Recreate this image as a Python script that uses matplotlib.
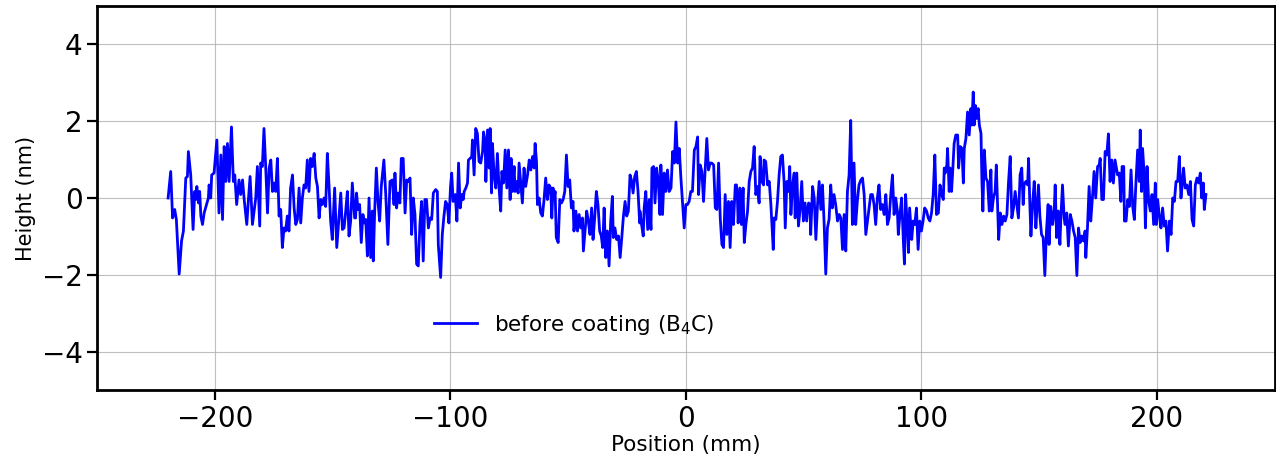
import matplotlib.pyplot as plt

# surface height profile along the mirror, before B4C coating
position_mm = [
    -219.8, -218.7, -217.9, -217.0, -216.3, -215.1, -214.1, -213.3, -212.3, -211.6,
    -211.2, -210.2, -209.2, -208.5, -208.1, -207.6, -206.9, -206.4, -205.9, -205.2,
    -204.5, -203.5, -202.7, -202.4, -201.7, -201.3, -200.3, -199.1, -198.2, -197.4,
    -196.7, -196.0, -195.3, -194.6, -193.9, -192.9, -192.1, -191.5, -190.7, -189.7,
    -189.0, -188.2, -187.5, -186.4, -185.7, -185.0, -184.0, -182.6, -181.9, -180.9,
    -180.5, -179.8, -179.1, -178.4, -177.6, -176.9, -176.2, -175.5, -174.8, -174.1,
    -173.4, -172.7, -172.0, -171.3, -170.6, -169.9, -169.2, -168.5, -167.8, -167.0,
    -166.3, -165.6, -164.9, -164.2, -163.5, -162.8, -162.1, -161.4, -160.7, -160.0,
    -159.3, -158.6, -157.8, -157.1, -156.4, -155.7, -155.0, -154.3, -153.6, -152.9,
    -152.2, -151.5, -150.8, -150.1, -149.1, -148.2, -147.5, -146.5, -145.8, -145.1,
    -144.4, -143.7, -143.0, -142.3, -141.6, -140.6,
    -140.2, -139.8, -139.2, -138.5, -137.8, -137.1, -136.4, -135.9, -135.2, -134.5,
    -133.8, -133.1, -132.7, -132.1, -131.4, -130.7, -130.0, -129.3, -128.2, -127.4,
    -126.5, -125.6, -124.6, -123.9, -123.5, -122.8, -122.1, -121.4, -120.8, -120.0,
    -119.2, -118.5, -117.8, -117.1, -116.4, -115.7, -115.0, -114.3, -113.6, -112.9,
    -112.2, -111.5, -110.8, -110.1, -109.3, -108.6, -107.9, -107.2, -106.2, -105.5,
    -105.1, -104.1, -103.4, -102.7, -102.0, -101.3, -100.6, -99.9,
    -99.4, -98.8, -97.9, -97.2, -96.5, -95.8, -95.1, -94.5, -94.1, -93.4,
    -92.7, -92.3, -91.6, -90.9, -90.6, -89.9, -89.2, -88.5, -87.8, -87.1,
    -86.3, -85.9, -85.2, -84.9, -84.2, -83.5, -83.1, -82.5, -82.1, -81.4,
    -80.7, -80.0, -79.3, -78.6, -78.1, -77.4, -76.7, -76.0, -75.3, -74.6,
    -74.2, -73.6, -72.9, -72.5, -71.9, -71.2, -70.8, -70.1, -69.4, -68.7,
    -68.0, -67.2, -66.5, -65.8, -65.1, -64.4, -64.0, -63.4, -63.0, -62.3,
    -61.6, -60.9, -60.2, -59.5,
    -58.8, -58.1, -57.4, -56.9, -56.4, -55.9, -55.5, -55.0, -54.2, -53.5,
    -52.8, -52.1, -51.4, -50.7, -50.0, -49.3, -48.6, -47.9, -47.5, -46.7,
    -46.0, -45.3, -44.6, -43.9, -43.5, -42.8, -42.1, -41.4, -40.7, -40.0,
    -39.4, -38.7, -38.0, -37.3, -36.6, -35.9, -35.3, -34.7, -34.0, -33.3,
    -32.6, -31.9, -31.2, -30.8, -30.1, -29.4, -28.6, -27.9, -27.2, -26.5,
    -25.8, -25.1, -24.4, -23.7, -23.1, -22.4, -21.7, -21.0, -20.3, -19.6,
    -19.5, -18.8, -18.1, -17.7, -17.0, -16.2, -15.5, -14.8, -14.4, -13.7,
    -13.1, -12.4, -11.7, -11.0, -10.6, -9.9, -9.2, -8.5, -7.8, -7.1,
    -6.3, -5.6, -4.9, -4.2, -3.5, -2.8, -2.1, -1.4, -0.7, 0.0,
    0.7, 1.4, 2.1, 2.8, 3.6, 4.3, 5.0, 5.4, 6.1, 6.8,
    7.5, 8.2, 8.9, 9.6, 10.3, 11.0, 11.8, 12.5, 13.2, 13.9,
    14.6, 15.3, 16.0, 16.7, 17.4, 18.1, 18.8, 19.5, 20.2, 21.0,
    21.5, 21.9, 22.2, 22.9, 23.6, 24.3, 24.8, 25.5, 26.2, 26.9,
    27.6, 28.3, 29.0, 29.7, 30.4, 31.1, 31.5, 32.3, 33.0, 33.2,
    33.9, 34.7, 35.4, 36.1, 36.4, 37.1, 37.5, 38.2, 38.9, 39.6,
    40.3, 41.0, 41.7, 42.2, 42.9, 43.6, 44.1, 44.6, 45.3, 46.0,
    46.4, 47.1, 47.8, 48.5, 49.2, 49.9, 50.6, 51.3, 52.1, 52.8,
    53.0, 53.8, 54.5, 55.2, 55.9, 56.6, 57.3, 58.0, 58.7, 59.4,
    60.1, 60.8, 61.5,
    62.2, 62.9, 63.6, 64.4, 65.1, 65.8, 66.5, 67.2, 67.9, 68.6,
    69.3, 70.0, 70.7, 71.4, 72.1, 72.8, 73.5, 74.3, 75.0, 75.7,
    76.4, 77.1, 77.8, 78.5, 79.2, 79.9, 80.6, 81.3, 82.0, 82.7,
    83.4, 84.2, 84.9, 85.6, 86.3, 87.0, 87.7, 88.4, 89.1, 89.8,
    90.2, 90.9, 91.6, 92.4, 92.8, 93.3, 94.1, 94.5, 95.0, 95.9,
    96.5, 97.2, 97.9, 98.6, 99.3, 100.0, 100.7, 101.4,
    102.2, 102.9, 103.6, 104.3, 105.0, 105.7, 106.4, 107.2, 107.9, 108.6,
    109.3, 109.7, 110.1, 110.8, 111.1, 111.8, 112.2, 112.8, 113.2, 113.9,
    114.6, 115.4, 115.8, 116.5, 117.2, 117.8, 118.2, 118.9, 119.6, 120.3,
    121.0, 121.4, 122.0, 122.4, 122.9, 123.4, 124.1, 124.6, 125.3, 125.7,
    126.1, 126.7, 127.4, 128.1, 128.8, 129.5, 129.9, 130.6, 131.3, 131.8,
    132.3, 132.8, 133.5, 134.2, 134.9, 135.6, 136.3, 137.0, 137.7, 138.4,
    139.1, 139.8, 140.5, 141.2, 141.9,
    142.6, 143.2, 143.6, 144.3, 145.1, 145.5, 146.0, 146.5, 147.2, 147.9,
    148.6, 149.0, 149.7, 150.3, 151.0, 151.7, 152.4, 153.1, 153.8, 154.2,
    154.9, 155.7, 156.4, 156.8, 157.4, 158.1, 158.8, 159.2, 159.9, 160.6,
    161.0, 161.7, 162.4, 163.2, 163.9, 164.6, 165.3, 166.0, 166.7, 167.4,
    168.1, 168.8, 169.5, 169.8, 170.5, 171.2, 171.9, 172.6, 173.3, 174.0,
    174.8, 175.5, 175.9, 176.6, 177.3, 178.0, 178.7, 179.4, 180.1, 180.8,
    181.5, 182.2,
    183.3, 184.0, 184.7, 185.2, 185.9, 186.2, 186.9, 187.6, 188.3, 189.0,
    189.7, 190.4, 191.1, 191.8, 192.5, 192.9, 193.5, 193.9, 194.6, 195.1,
    195.8, 196.5, 197.2, 197.9, 198.6, 199.3, 199.7, 200.3, 201.0, 201.7,
    202.4, 203.1, 203.8, 204.5, 205.3, 206.0, 206.7, 207.4, 208.1, 208.8,
    209.5, 210.2, 210.9, 211.3, 212.0, 212.7, 213.5, 214.2, 214.9, 215.6,
    216.3, 217.0, 217.7, 218.4, 219.0, 219.7, 220.1, 220.8,
]

height_nm = [
    0.00, 0.69, -0.52, -0.30, -0.56, -1.98, -1.12, -0.86, 0.52, 0.56,
    1.21, 0.60, -0.82, 0.17, -0.04, 0.30, -0.13, 0.17, -0.47, -0.69,
    -0.39, -0.17, 0.00, 0.34, 0.00, 0.60, 0.65, 1.51, -0.39, 1.12,
    -0.56, 1.34, 0.43, 1.42, 0.43, 1.85, 0.43, 0.60, -0.17, 0.47,
    0.09, 0.47, -0.04, -0.69, -0.04, 0.56, -0.69, 0.00, 0.82, -0.73,
    0.91, 0.82, 1.81, 0.86, -0.39, 0.78, 0.99, 0.17, 0.39, 0.17,
    1.03, -0.47, -0.30, -1.29, -0.78, -0.86, -0.47, -0.86, 0.26, 0.60,
    -0.26, -0.69, -0.56, 0.26, -0.65, 0.00, 0.34, 0.26, 0.99, 0.17,
    1.03, 0.82, 1.16, 0.52, 0.30, -0.52, -0.04, -0.17, 0.00, -0.22,
    1.16, 0.34, -0.60, -1.08, 0.26, -1.29, -0.69, 0.13, -0.82, -0.78,
    -0.34, 0.17, -0.99, -0.60, 0.39, -0.52,
    -0.52, 0.13, -0.30, -0.17, -1.16, -0.43, -0.65, -0.56, -1.51, 0.00,
    -1.55, -0.34, -1.64, -0.34, 0.78, -0.09, -0.60, 0.30, 0.99, 0.09,
    -1.21, 0.43, 0.47, -0.17, 0.65, -0.26, 0.13, -0.13, 1.03, 1.03,
    -0.39, 0.47, 0.43, 0.52, -0.95, 0.00, -0.43, -1.72, -1.77, -0.69,
    -0.09, -1.64, -0.04, -0.04, -0.78, -0.52, -0.56, 0.13, 0.22, 0.17,
    -1.21, -2.07, -0.95, -0.47, -0.09, -0.17, -0.65, 0.30,
    0.65, -0.09, 0.09, -0.60, 0.91, -0.26, 0.09, -0.04, 0.17, 0.26,
    0.39, 0.99, 1.03, 1.08, 1.51, 0.60, 1.81, 1.68, 0.95, 0.91,
    1.21, 1.72, 1.47, 0.43, 1.77, 0.78, 1.81, 0.13, 1.42, 0.60,
    0.26, 1.16, 0.26, -0.34, 0.69, 0.39, 1.25, 0.26, 1.25, -0.04,
    1.03, 0.17, 0.82, 0.17, 0.43, 0.13, 0.91, 0.39, -0.13, 0.78,
    0.30, 0.60, 0.99, 0.73, 1.08, 0.78, 1.42, 0.95, -0.17, 0.00,
    -0.39, -0.47, -0.04, 0.52,
    -0.04, 0.34, 0.26, -0.52, 0.26, 0.00, 0.17, -1.03, -1.16, -0.04,
    -0.13, -0.04, 0.17, 1.12, 0.30, 0.47, -0.26, -0.09, -0.86, -0.34,
    -0.86, -0.43, -0.78, -0.52, -1.38, -0.86, -0.34, -0.60, -0.95, -0.26,
    -1.08, -0.52, 0.17, -0.17, -0.86, -0.99, -1.29, -0.26, -1.55, -0.86,
    -1.77, -0.60, 0.04, -1.03, -0.78, -1.08, -0.99, -1.55, -1.03, -0.47,
    -0.09, -0.47, -0.34, 0.60, 0.47, 0.13, 0.56, 0.69, 0.17, -0.65,
    -0.34, -0.69, -0.99, -0.26, 0.17, -0.82, -0.04, -0.82, 0.78, 0.82,
    -0.13, 0.78, 0.43, -0.43, 0.86, -0.43, 0.65, 0.17, 0.73, 0.17,
    0.26, 1.21, 0.91, 1.98, 0.91, 1.29, 0.52, -0.13, -0.78, -0.17,
    -0.17, -0.09, 0.17, 0.17, 1.25, 1.34, 1.59, 0.09, 0.86, 0.69,
    -0.09, 0.73, 1.55, 0.73, 0.91, 0.91, 0.86, -0.26, -0.30, 0.91,
    -0.52, -1.21, -1.29, 0.09, -0.95, -0.09, -1.29, -0.09, -0.69, 0.34,
    0.34, -0.04, -0.65, 0.26, -0.69, 0.26, -1.16, -0.69, -0.34, 0.43,
    0.69, 0.78, 1.34, 0.09, 0.30, -0.13, 1.08, 0.43, 0.34, 0.99,
    0.95, 0.34, 0.43, -0.17, -0.52, -1.34, -0.52, -0.56, -0.09, 0.60,
    1.08, 1.12, 0.43, -0.78, 0.43, 0.17, 0.82, -0.43, 0.34, 0.65,
    -0.52, 0.65, -0.73, -0.30, 0.43, -0.60, -0.13, -0.60, -0.13, -0.17,
    -0.95, 0.30, 0.00, -1.08, -0.17, 0.43, -0.30, 0.34, -0.65, -1.98,
    -0.78, -0.56, 0.34,
    -0.26, 0.09, -0.17, -0.60, -0.43, -0.52, -1.34, -0.43, -1.38, 0.17,
    0.60, 2.02, -0.69, 0.91, -0.69, -0.09, 0.34, 0.47, 0.52, 0.09,
    -0.95, -0.60, -0.26, 0.09, 0.09, -0.17, -0.69, 0.00, 0.34, -0.30,
    -0.17, -0.43, 0.09, -0.69, -0.52, 0.09, 0.60, -0.43, 0.00, -0.34,
    -0.95, -0.43, 0.00, -1.21, -1.72, 0.09, -0.86, -1.42, -0.26, -1.08,
    -0.60, -0.69, -0.26, -1.34, -0.60, -0.86, -0.60, -0.26,
    -0.34, -0.52, -0.60, -0.39, 0.09, 1.12, -0.43, -0.39, 0.34, 0.09,
    -0.04, 0.78, 0.65, 0.86, 1.29, 0.17, 0.78, 0.17, 0.60, 1.42,
    1.64, 1.64, 0.78, 1.34, 1.29, 0.39, 1.29, 1.55, 2.24, 1.64,
    2.33, 1.90, 2.76, 1.90, 2.41, 2.07, 2.33, 1.90, 1.68, 0.43,
    -0.34, 1.25, 0.52, 0.43, -0.34, 0.73, -0.34, 0.00, 0.17, 0.86,
    -0.09, -1.08, -0.39, -0.69, -0.47, -0.60, -0.43, 0.43, 1.08, -0.52,
    -0.26, 0.17, -0.17, -0.52, 0.60,
    0.78, -0.17, 0.34, 0.43, 0.34, 1.03, -0.09, -0.99, -0.17, 0.43,
    -0.78, -0.34, 0.34, -0.47, -0.95, -1.03, -2.02, -0.86, -0.17, -1.21,
    -0.22, -0.69, -0.30, 0.34, -1.03, -0.34, -1.21, -0.52, 0.34, -0.52,
    -0.69, -0.39, -1.25, -0.43, -0.60, -0.86, -1.03, -2.02, -0.78, -1.16,
    -0.99, -1.12, -0.86, -1.55, -0.78, 0.30, -0.60, 0.00, 0.69, 0.00,
    0.82, 0.86, 1.03, -0.04, -0.04, 1.21, 1.12, 1.67, 0.43, 0.99,
    0.39, 0.99,
    0.60, 0.65, -0.09, 0.82, 0.82, -0.60, -0.60, -0.04, -0.22, 0.73,
    -0.22, -0.56, 0.43, 1.25, 0.43, 1.77, 0.17, 1.29, 0.60, -0.78,
    0.82, -0.09, -0.34, 0.09, -0.69, 0.39, -0.69, -0.04, -0.47, -0.78,
    -0.26, -0.73, -0.60, -1.38, -0.60, -0.95, 0.00, -0.09, 0.43, 0.43,
    1.08, 0.00, 0.47, 0.78, 0.26, 0.34, 0.09, 0.43, -0.56, -0.73,
    0.34, 0.52, 0.39, 0.65, 0.00, 0.39, -0.30, 0.09,
]

fig, ax = plt.subplots(figsize=(12.76, 4.61), dpi=100)
fig.subplots_adjust(left=0.076, right=0.999, bottom=0.154, top=0.987)

ax.plot(position_mm, height_nm, color='blue', linewidth=2, label='before coating (B$_4$C)')

ax.set_xlim(-250, 250)
ax.set_ylim(-5, 5)
ax.set_xticks([-200, -100, 0, 100, 200])
ax.set_yticks([-4, -2, 0, 2, 4])
ax.grid(True, color='#b0b0b0', linewidth=0.8, alpha=0.8)
ax.tick_params(axis='both', labelsize=20, length=7, width=1.6, direction='out')
for side in ax.spines.values():
    side.set_linewidth(2)

ax.set_xlabel('Position (mm)', fontsize=15.5, labelpad=2)
ax.set_ylabel('Height (nm)', fontsize=15)

ax.legend(loc='center', bbox_to_anchor=(0.405, 0.17), frameon=False, fontsize=15.5)

plt.savefig('out.png', dpi=100)
